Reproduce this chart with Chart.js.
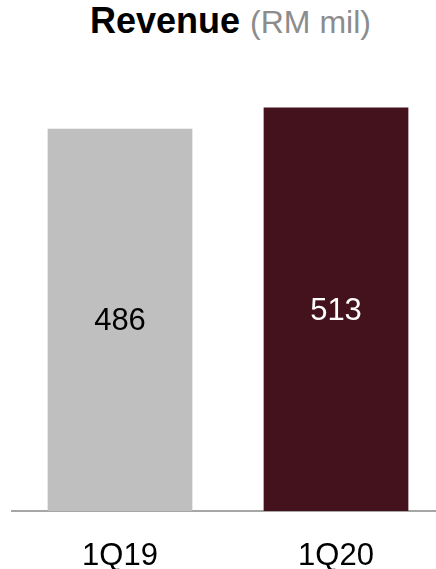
<!DOCTYPE html>
<html>
<head>
<meta charset="utf-8">
<script src="https://cdn.jsdelivr.net/npm/chart.js@4"></script>
<style>
  html, body { margin: 0; padding: 0; background: #fff; overflow: hidden; }
  .wrap { position: relative; width: 444px; height: 569px; }
  .title { position: absolute; left: 90px; top: 3px; line-height: 36px; font-family: "Liberation Sans", Arial, sans-serif; font-size: 36px; white-space: nowrap; }
  .title b { color: #000; }
  .title span { color: #8c8c8c; font-size: 32px; }
  canvas { position: absolute; left: 0; top: 0; }
</style>
</head>
<body>
<div class="wrap">
  <div class="title"><b>Revenue</b> <span>(RM mil)</span></div>
  <canvas id="chart" width="444" height="569"></canvas>
</div>
<script>
const quarters = ['1Q19', '1Q20'];
const revenue = [486, 513];

const barColors = ['#bfbfbf', '#43121c'];
const valueColors = ['#000000', '#ffffff'];
const font = '"Liberation Sans", Arial, sans-serif';

// write each value in the middle of its bar
const barValues = {
  id: 'barValues',
  afterDatasetsDraw(chart) {
    const ctx = chart.ctx;
    const meta = chart.getDatasetMeta(0);
    ctx.save();
    ctx.font = '31px ' + font;
    ctx.textAlign = 'center';
    ctx.textBaseline = 'middle';
    meta.data.forEach((bar, i) => {
      ctx.fillStyle = valueColors[i];
      ctx.fillText(String(revenue[i]), bar.x, (bar.y + bar.base) / 2 + 2);
    });
    ctx.restore();
  }
};

const ctx = document.getElementById('chart').getContext('2d');
new Chart(ctx, {
  type: 'bar',
  data: {
    labels: quarters,
    datasets: [{
      data: revenue,
      backgroundColor: barColors,
      borderWidth: 0,
      categoryPercentage: 1,
      barPercentage: 0.67
    }]
  },
  options: {
    responsive: false,
    animation: false,
    layout: { padding: { top: 39, left: 12, right: 0, bottom: 0 } },
    plugins: {
      legend: { display: false },
      tooltip: { enabled: false }
    },
    scales: {
      x: {
        grid: { display: false },
        border: { display: true, color: '#a6a6a6', width: 2 },
        ticks: { color: '#000', font: { family: font, size: 31 }, padding: 19 },
        afterFit: (scale) => { scale.height = 58; }
      },
      y: {
        display: false,
        min: 0,
        max: 600
      }
    }
  },
  plugins: [barValues]
});
</script>
</body>
</html>
